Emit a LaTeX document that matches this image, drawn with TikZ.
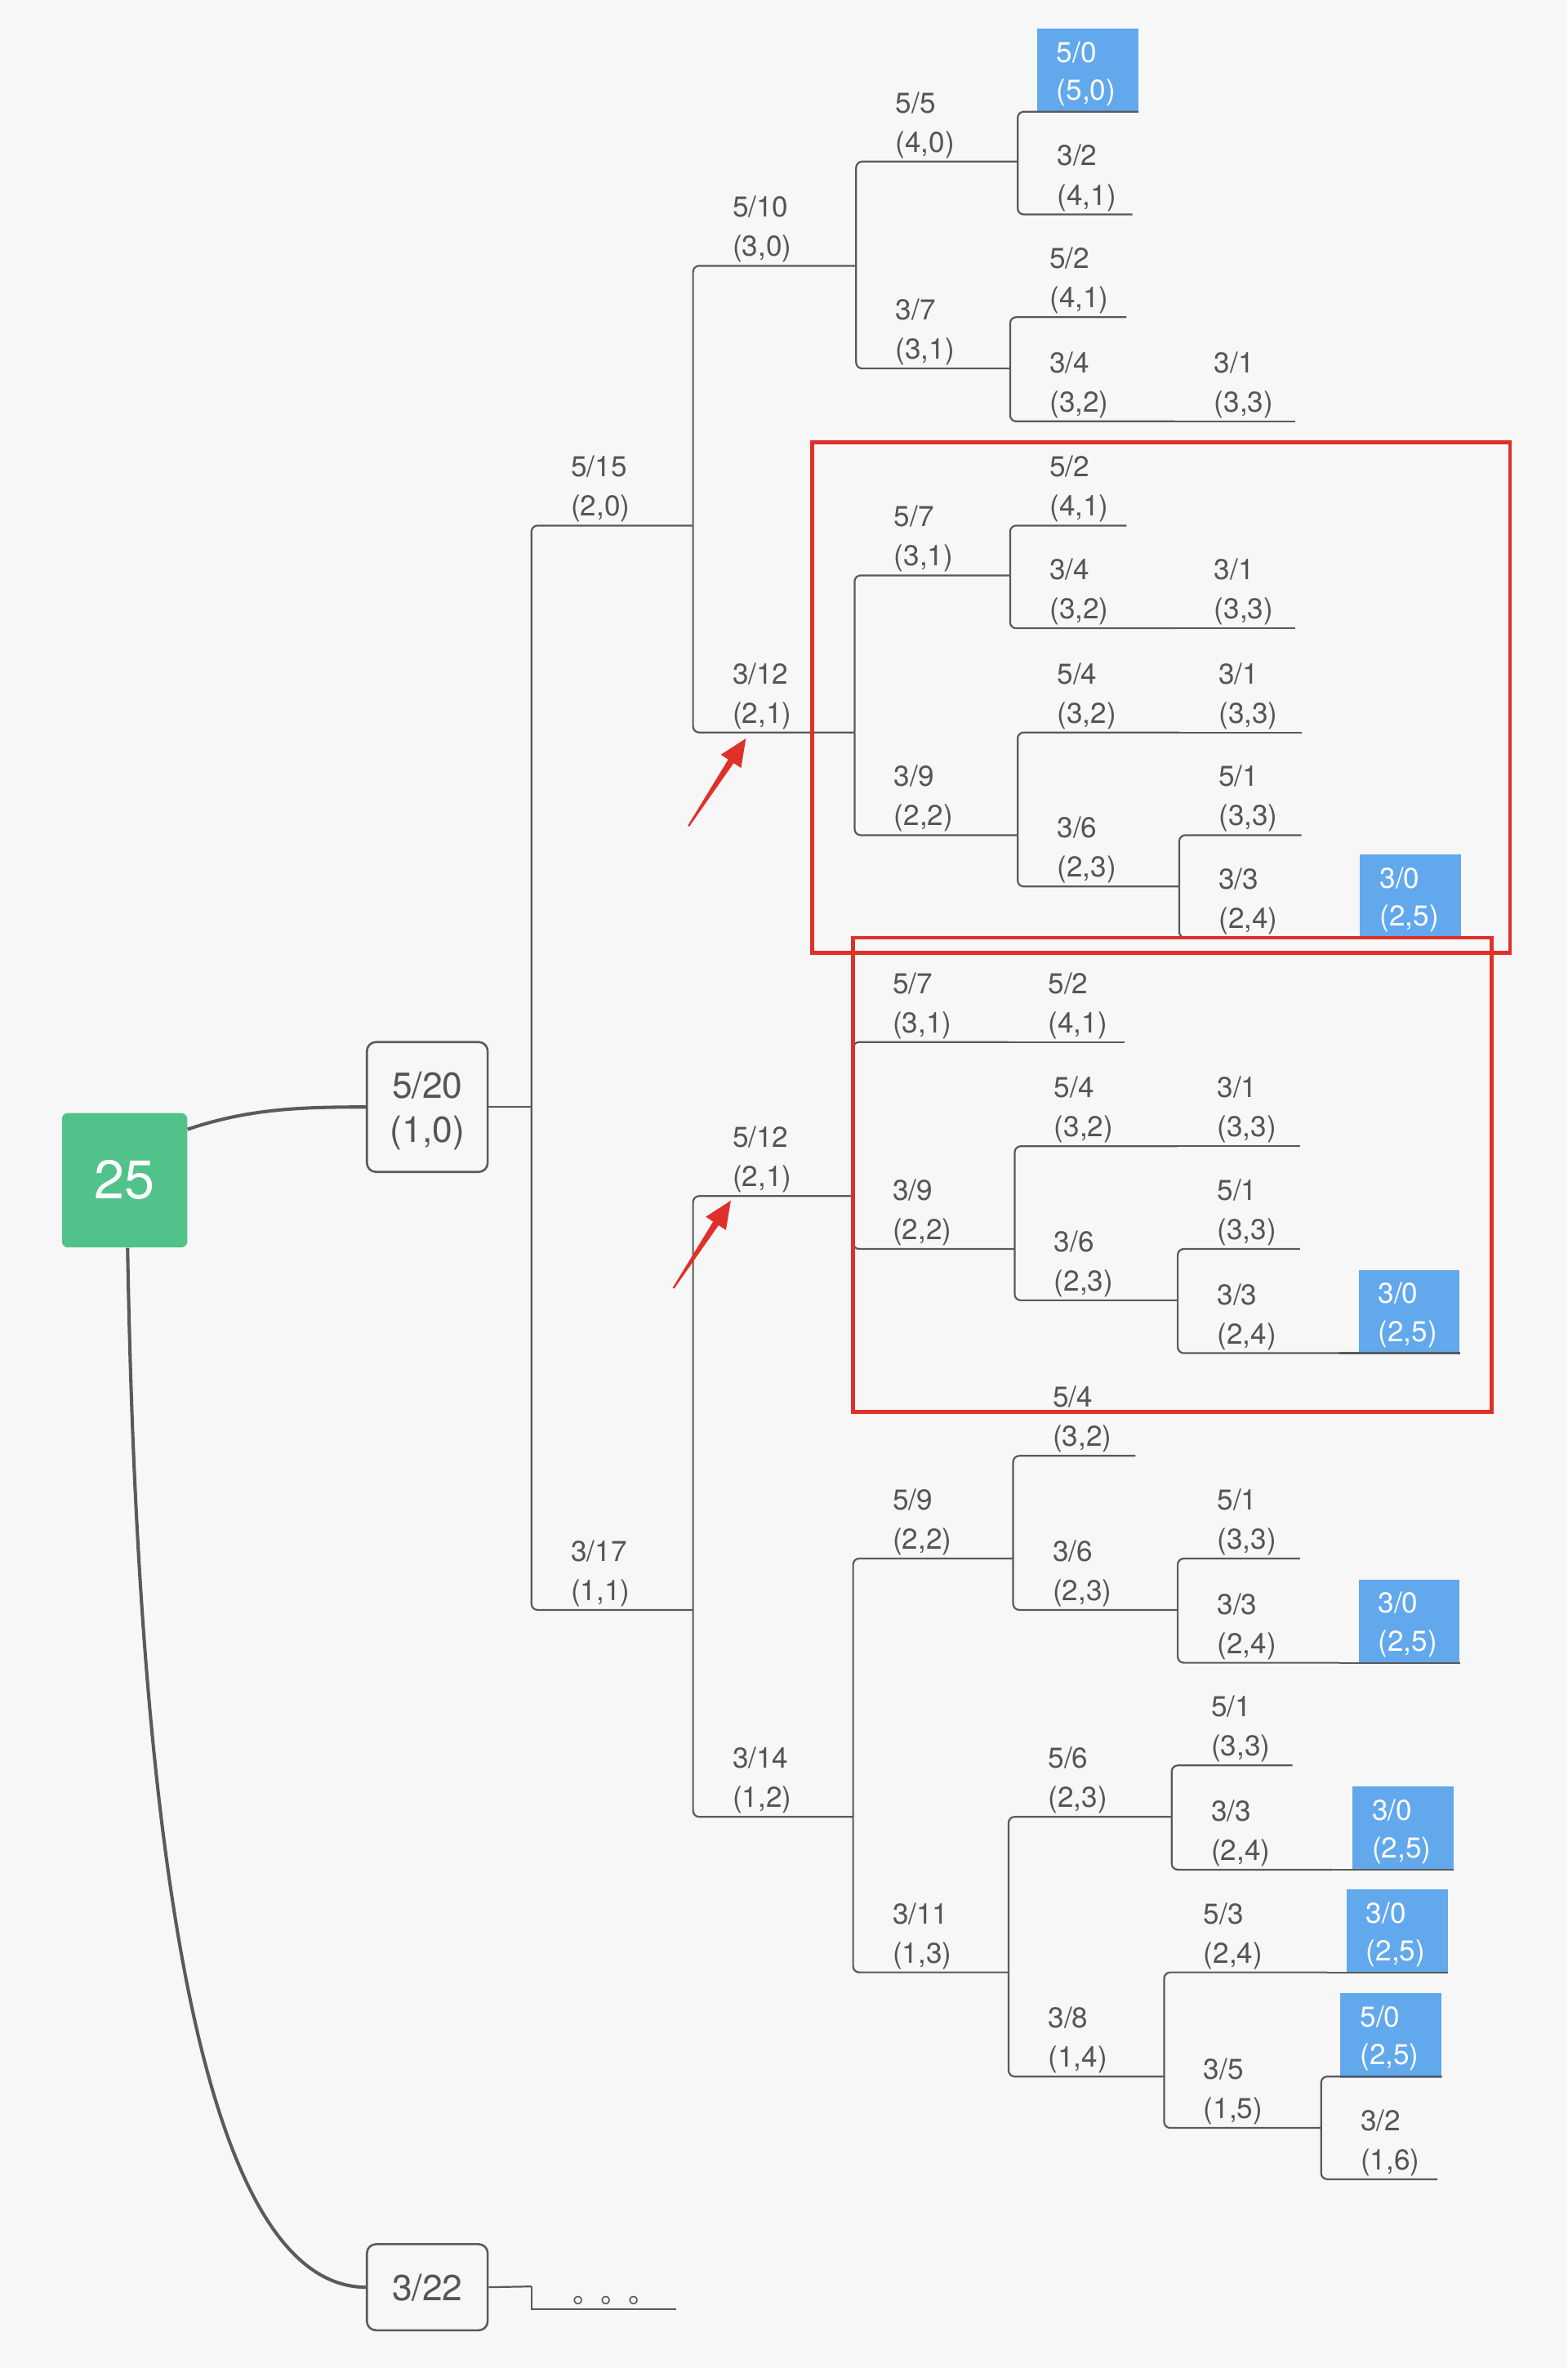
\documentclass[tikz,border=0pt]{standalone}
\usepackage{fontspec}
\setmainfont{TeX Gyre Heros}
\newfontfamily\cjk{Noto Sans CJK SC}
\definecolor{bgc}{HTML}{F7F7F7}
\definecolor{lnc}{HTML}{5A5A5A}
\definecolor{txc}{HTML}{555555}
\definecolor{grn}{HTML}{52C28B}
\definecolor{blu}{HTML}{62A8EC}
\definecolor{redc}{HTML}{E0302A}
\tikzset{
  conn/.style={draw=lnc, line width=1.2pt, rounded corners=4pt},
  curv/.style={draw=lnc, line width=2.2pt},
  lbl/.style={anchor=south west, inner sep=0pt, align=left, text=txc,
    font=\fontsize{19}{26}\selectfont},
  bbx/.style={anchor=south east, fill=blu, inner sep=0pt,
    minimum width=67pt, minimum height=56pt},
  bbxt/.style={anchor=west, inner sep=0pt, align=left, text=white,
    font=\fontsize{19}{25}\selectfont},
  rootbox/.style={fill=grn, text=white, rounded corners=4pt, minimum width=83pt,
    minimum height=89pt, inner sep=0pt, font=\fontsize{36}{40}\selectfont},
  topbox/.style={draw=lnc, line width=1.4pt, fill=bgc, rounded corners=6pt,
    minimum width=80pt, inner sep=0pt, align=center, text=txc, text depth=0pt,
    font=\fontsize{24}{29}\selectfont},
  redbox/.style={draw=redc, line width=2.4pt},
  redarrow/.style={fill=redc}
}
% name, startx, endx, y, line1, line2
\newcommand\seg[6]{%
  \coordinate (#1) at (#3,#4);
  \node[lbl] (#1-t) at (#2+26,#4-2) {#5\\#6};
}
% name, endx, y, line1, line2
\newcommand\bluebox[5]{%
  \coordinate (#1) at (#2,#3);
  \node[bbx] (#1-b) at (#2,#3+1) {};
  \node[bbxt] (#1-t) at ([xshift=13pt,yshift=-2pt]#1-b.west) {#4\\#5};
}
\begin{document}
\begin{tikzpicture}[x=1pt,y=-1pt]
\fill[bgc] (0,0) rectangle (1038,1568);
\useasboundingbox (0,0) rectangle (1038,1568);

% root and first level boxes
\node[rootbox] (r) at (82.5,781.5) {25};
\node[topbox, minimum height=86pt] (b1) at (283,733) {5/20\\(1,0)};
\node[topbox, minimum height=57pt] (b2) at (283,1514.5) {3/22};
\draw[curv] ([yshift=-11pt]r.north east) .. controls (165,734) and (200,733) .. (b1.west);
\draw[curv] ([xshift=2pt]r.south) .. controls (92,1260) and (140,1514) .. (b2.west);

\coordinate (b1o) at (352,733);
\draw[conn] (b1.east) -- (b1o);

% level 1
\seg{A}{352}{459}{348}{5/15}{(2,0)}
\seg{B}{352}{459}{1066}{3/17}{(1,1)}
\draw[conn] (b1o) |- (A);
\draw[conn] (b1o) |- (B);

% A subtree
\seg{A1}{459}{567}{176}{5/10}{(3,0)}
\seg{A2}{459}{566}{485}{3/12}{(2,1)}
\draw[conn] (A) |- (A1);
\draw[conn] (A) |- (A2);

\seg{A11}{567}{674}{107}{5/5}{(4,0)}
\seg{A12}{567}{669}{244}{3/7}{(3,1)}
\draw[conn] (A1) |- (A11);
\draw[conn] (A1) |- (A12);

\bluebox{A111}{754}{74}{5/0}{(5,0)}
\seg{A112}{674}{750}{142}{3/2}{(4,1)}
\draw[conn] (A11) |- (A111);
\draw[conn] (A11) |- (A112);

\seg{A121}{669}{746}{210}{5/2}{(4,1)}
\seg{A122}{669}{778}{279}{3/4}{(3,2)}
\seg{A123}{778}{858}{279}{3/1}{(3,3)}
\draw[conn] (A12) |- (A121);
\draw[conn] (A12) |- (A122);
\draw[conn] (A122) -- (A123);

\seg{A21}{566}{669}{381}{5/7}{(3,1)}
\seg{A22}{566}{674}{553}{3/9}{(2,2)}
\draw[conn] (A2) |- (A21);
\draw[conn] (A2) |- (A22);

\seg{A211}{669}{746}{348}{5/2}{(4,1)}
\seg{A212}{669}{778}{416}{3/4}{(3,2)}
\seg{A213}{778}{858}{416}{3/1}{(3,3)}
\draw[conn] (A21) |- (A211);
\draw[conn] (A21) |- (A212);
\draw[conn] (A212) -- (A213);

\seg{A221}{674}{781}{485}{5/4}{(3,2)}
\seg{A222}{781}{862}{485}{3/1}{(3,3)}
\seg{A223}{674}{781}{587}{3/6}{(2,3)}
\draw[conn] (A22) |- (A221);
\draw[conn] (A221) -- (A222);
\draw[conn] (A22) |- (A223);

\seg{A2231}{781}{862}{553}{5/1}{(3,3)}
\seg{A2232}{781}{888}{621}{3/3}{(2,4)}
\bluebox{A2233}{968}{621}{3/0}{(2,5)}
\draw[conn] (A223) |- (A2231);
\draw[conn] (A223) |- (A2232);
\draw[conn] (A2232) -- (A2233);

% B subtree
\seg{B1}{459}{565}{792}{5/12}{(2,1)}
\seg{B2}{459}{565}{1203}{3/14}{(1,2)}
\draw[conn] (B) |- (B1);
\draw[conn] (B) |- (B2);

\seg{B11}{565}{668}{690}{5/7}{(3,1)}
\seg{B12}{668}{745}{690}{5/2}{(4,1)}
\seg{B13}{565}{672}{827}{3/9}{(2,2)}
\draw[conn] (B1) |- (B11);
\draw[conn] (B11) -- (B12);
\draw[conn] (B1) |- (B13);

\seg{B131}{672}{780}{759}{5/4}{(3,2)}
\seg{B132}{780}{861}{759}{3/1}{(3,3)}
\seg{B133}{672}{780}{861}{3/6}{(2,3)}
\draw[conn] (B13) |- (B131);
\draw[conn] (B131) -- (B132);
\draw[conn] (B13) |- (B133);

\seg{B1331}{780}{861}{827}{5/1}{(3,3)}
\seg{B1332}{780}{887}{896}{3/3}{(2,4)}
\bluebox{B1333}{967}{896}{3/0}{(2,5)}
\draw[conn] (B133) |- (B1331);
\draw[conn] (B133) |- (B1332);
\draw[conn] (B1332) -- (B1333);

\seg{B21}{565}{671}{1032}{5/9}{(2,2)}
\seg{B22}{565}{668}{1306}{3/11}{(1,3)}
\draw[conn] (B2) |- (B21);
\draw[conn] (B2) |- (B22);

\seg{B211}{671}{752}{964}{5/4}{(3,2)}
\seg{B212}{671}{780}{1066}{3/6}{(2,3)}
\draw[conn] (B21) |- (B211);
\draw[conn] (B21) |- (B212);

\seg{B2121}{780}{861}{1032}{5/1}{(3,3)}
\seg{B2122}{780}{887}{1101}{3/3}{(2,4)}
\bluebox{B2123}{967}{1101}{3/0}{(2,5)}
\draw[conn] (B212) |- (B2121);
\draw[conn] (B212) |- (B2122);
\draw[conn] (B2122) -- (B2123);

\seg{B221}{668}{776}{1203}{5/6}{(2,3)}
\seg{B222}{668}{771}{1375}{3/8}{(1,4)}
\draw[conn] (B22) |- (B221);
\draw[conn] (B22) |- (B222);

\seg{B2211}{776}{856}{1169}{5/1}{(3,3)}
\seg{B2212}{776}{883}{1238}{3/3}{(2,4)}
\bluebox{B2213}{963}{1238}{3/0}{(2,5)}
\draw[conn] (B221) |- (B2211);
\draw[conn] (B221) |- (B2212);
\draw[conn] (B2212) -- (B2213);

\seg{B2221}{771}{879}{1306}{5/3}{(2,4)}
\bluebox{B2222}{959}{1306}{3/0}{(2,5)}
\seg{B2223}{771}{875}{1409}{3/5}{(1,5)}
\draw[conn] (B222) |- (B2221);
\draw[conn] (B2221) -- (B2222);
\draw[conn] (B222) |- (B2223);

\bluebox{B22231}{955}{1375}{5/0}{(2,5)}
\seg{B22232}{875}{952}{1443}{3/2}{(1,6)}
\draw[conn] (B2223) |- (B22231);
\draw[conn] (B2223) |- (B22232);

% 3/22 branch
\coordinate (b2o) at (352,1514);
\coordinate (dots) at (448,1529);
\draw[conn] (b2.east) -- (b2o);
\draw[conn, rounded corners=0pt] (b2o) |- (dots);
\node[anchor=base west, inner sep=0pt, text=txc, font=\cjk\fontsize{18.5}{20}\selectfont] (dt) at (379,1525) {。。。};

% red annotations
\draw[redbox] (538,293) rectangle (1000,631);
\draw[redbox] (565,621) rectangle (988,935);
\fill[redarrow] (455.5,546.7) -- (482.3,502.9) -- (477.4,499.7) -- (494,489)
  -- (490.8,508.5) -- (485.9,505.3) -- (456.5,547.3) -- cycle;
\begin{scope}[shift={(-10,306)}]
\fill[redarrow] (455.5,546.7) -- (482.3,502.9) -- (477.4,499.7) -- (494,489)
  -- (490.8,508.5) -- (485.9,505.3) -- (456.5,547.3) -- cycle;
\end{scope}
\end{tikzpicture}
\end{document}
